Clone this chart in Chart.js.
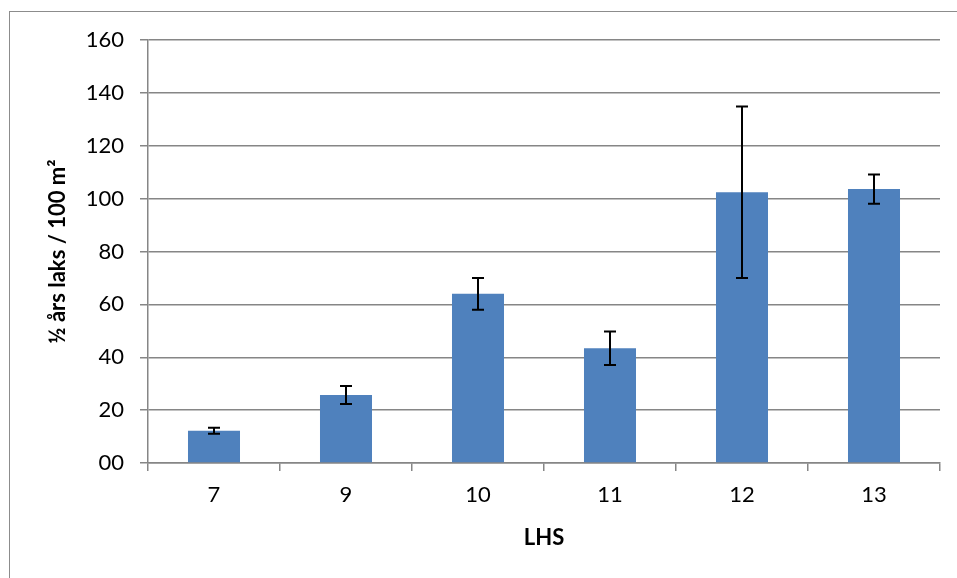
<!DOCTYPE html>
<html>
<head>
<meta charset="utf-8">
<script src="https://cdn.jsdelivr.net/npm/chart.js@4"></script>
<style>
  html, body { margin: 0; padding: 0; background: #fff; overflow: hidden; }
  #wrap { position: relative; width: 957px; height: 578px; }
  #ramme { position: absolute; left: 9px; top: 11px; width: 960px; height: 580px; border: 1px solid #8c8c8c; box-sizing: border-box; }
  canvas { position: absolute; left: 0; top: 0; }
</style>
</head>
<body>
<div id="wrap">
  <div id="ramme"></div>
  <canvas id="graf" width="957" height="578"></canvas>
</div>
<script>
// LHS-stasjoner og tetthet av ½ års laks
const stasjoner = ['7', '9', '10', '11', '12', '13'];
const tetthet = [12.2, 25.7, 64.0, 43.4, 102.4, 103.6];
const feil = [1.1, 3.4, 6.0, 6.3, 32.4, 5.5];
const yTicks = [0, 20, 40, 60, 80, 100, 120, 140, 160];

const feilstolper = {
    id: 'feilstolper',
    afterDatasetsDraw(chart) {
        const ctx = chart.ctx;
        const y = chart.scales.y;
        const meta = chart.getDatasetMeta(0);
        ctx.save();
        ctx.strokeStyle = '#000';
        ctx.lineWidth = 2;
        meta.data.forEach((bar, i) => {
            const topp = y.getPixelForValue(tetthet[i] + feil[i]);
            const bunn = y.getPixelForValue(tetthet[i] - feil[i]);
            ctx.beginPath();
            ctx.moveTo(bar.x, topp); ctx.lineTo(bar.x, bunn);
            ctx.moveTo(bar.x - 6, topp); ctx.lineTo(bar.x + 6, topp);
            ctx.moveTo(bar.x - 6, bunn); ctx.lineTo(bar.x + 6, bunn);
            ctx.stroke();
        });
        ctx.restore();
    }
};

Chart.defaults.font.family = 'Lato, Carlito, "Open Sans", sans-serif';
Chart.defaults.color = '#000';

new Chart('graf', {
    type: 'bar',
    data: {
        labels: stasjoner,
        datasets: [{
            data: tetthet,
            backgroundColor: '#4f81bd',
            barPercentage: 0.394,
            categoryPercentage: 1
        }]
    },
    options: {
        responsive: false,
        animation: false,
        layout: { padding: { top: 40, right: 17, left: 0, bottom: 0 } },
        plugins: { legend: { display: false }, tooltip: { enabled: false } },
        scales: {
            x: {
                afterFit: (s) => { s.height = 115; },
                grid: { drawOnChartArea: false, drawTicks: true, tickLength: 8, color: '#868686', lineWidth: 1.5 },
                border: { color: '#868686', width: 1.5 },
                ticks: { font: { size: 22 }, padding: 11 },
                title: { display: true, text: 'LHS', font: { size: 22, weight: 'bold' }, padding: { top: 0, bottom: 27 } }
            },
            y: {
                min: 0,
                max: 160,
                afterFit: (s) => { s.width = 148; },
                afterBuildTicks: (s) => { s.ticks = yTicks.map(v => ({ value: v })); },
                grid: { color: '#868686', lineWidth: 1.5, tickLength: 8 },
                border: { color: '#868686', width: 1.5 },
                ticks: {
                    font: { size: 22 },
                    padding: 16,
                    callback: (v) => v === 0 ? '00' : String(v)
                },
                title: { display: true, text: '½ års laks / 100 m²', font: { size: 22, weight: 'bold' }, padding: { top: 45, bottom: 0 } }
            }
        }
    },
    plugins: [feilstolper]
});
</script>
</body>
</html>
